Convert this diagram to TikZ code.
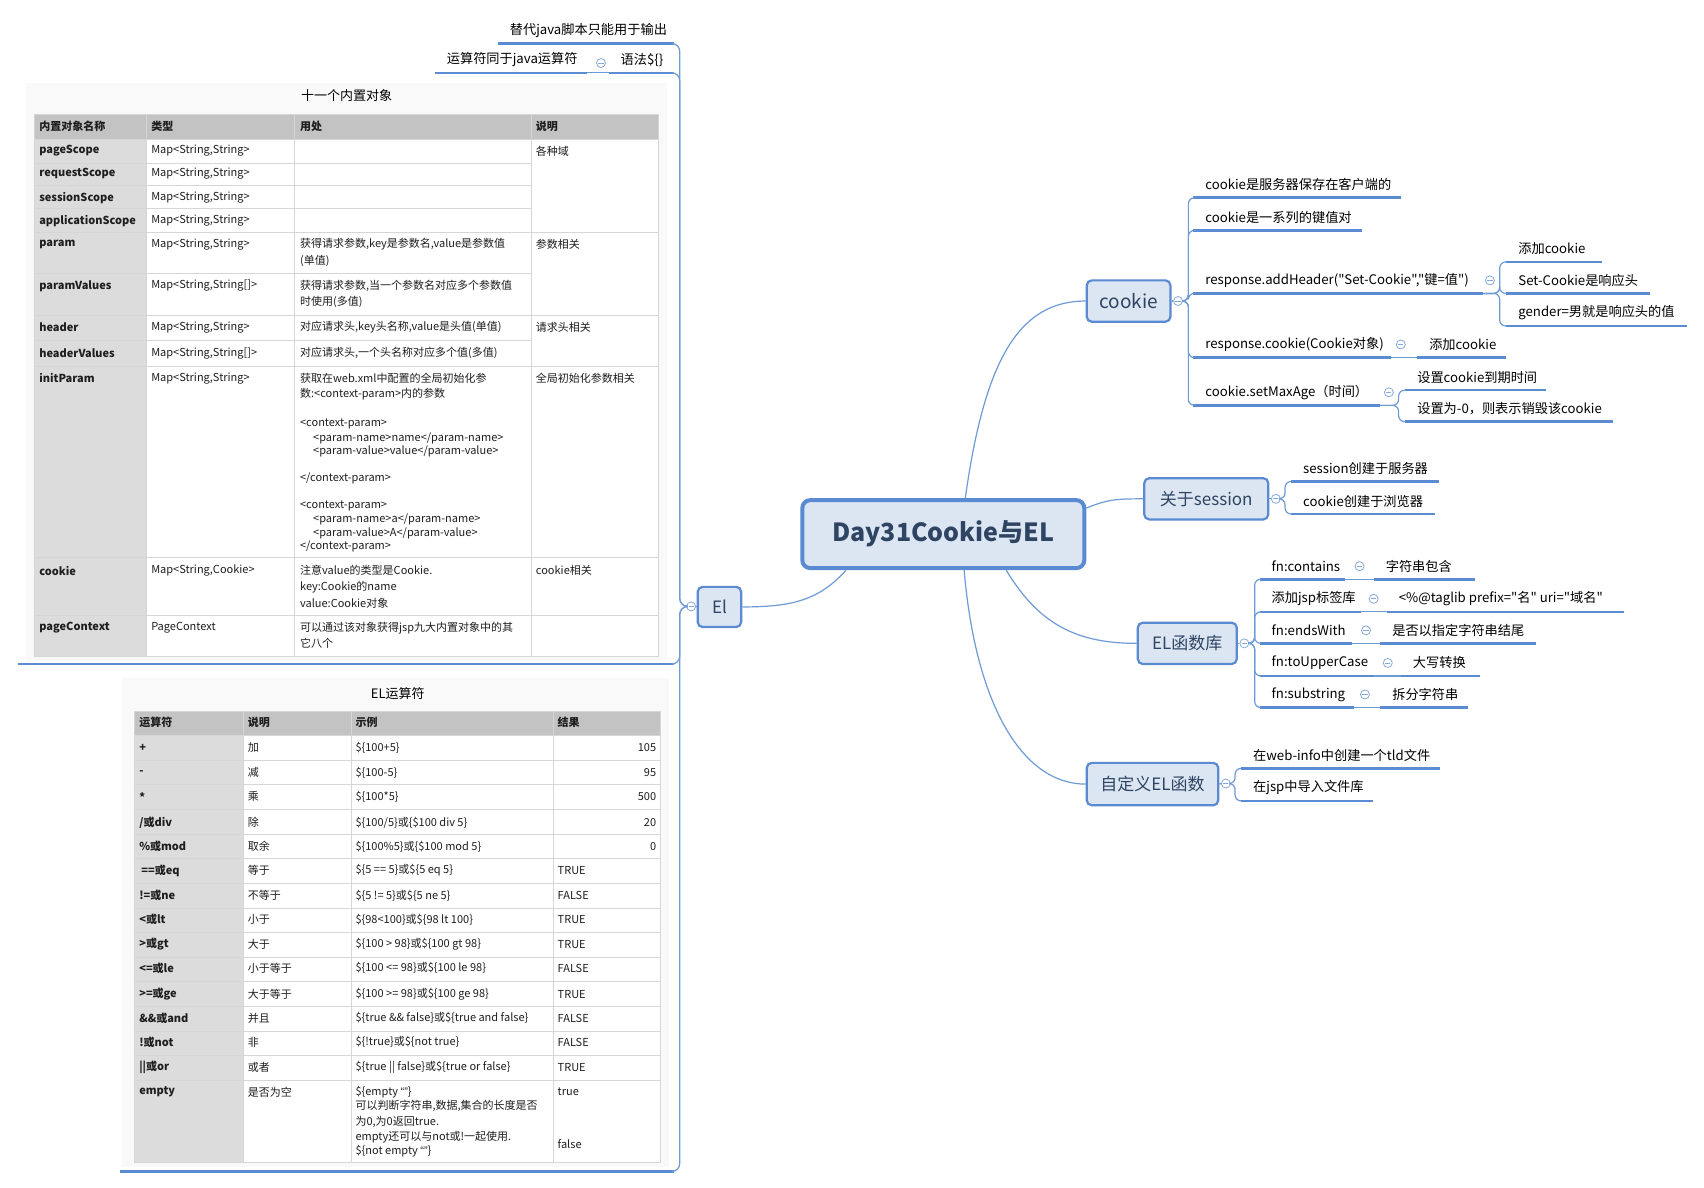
\documentclass[tikz,border=0pt]{standalone}
\usepackage{fontspec}
\setmainfont{Noto Sans CJK SC}[Ligatures=TeXOff]
\newfontfamily\lat{Liberation Sans}
\usetikzlibrary{calc}
\definecolor{ul}{HTML}{5B8BD2}
\definecolor{thinc}{HTML}{6E9AD6}
\definecolor{togc}{HTML}{86A9DC}
\definecolor{nbord}{HTML}{5A8AD2}
\definecolor{nfill}{HTML}{DCE6F2}
\definecolor{ntext}{HTML}{2E4462}
\definecolor{gridc}{HTML}{D6D6D6}
\definecolor{hdr}{HTML}{C2C3C2}
\definecolor{colone}{HTML}{DCDCDC}
\definecolor{tcol}{HTML}{1E1E1E}
\definecolor{panel}{HTML}{F9F9F9}
\newcommand\tx[5][tc]{\node[#1] (#2) at (#3,#4) {#5};}
\newcommand\leaf[5]{\node[leaf] (#1) at ({#2+11},{#4-12}) {#5};
  \draw[uline] (#2,#4) coordinate (#1-s) -- (#3,#4) coordinate (#1-e);}
\newcommand\tog[3]{\node[togs] (#1) at (#2,#3) {};}
\begin{document}
\begin{tikzpicture}[x=1.0867pt,y=-1.0867pt,
  leaf/.style={font=\fontsize{13.2}{15}\selectfont, inner sep=0pt, anchor=west, text=black},
  uline/.style={draw=ul, line width=2.6pt},
  conn/.style={draw=thinc, line width=1.2pt},
  togs/.style={circle, draw=togc, fill=white, minimum size=9pt, inner sep=0pt, line width=0.8pt,
    path picture={\draw[togc,line width=0.8pt] ([xshift=-2.6pt]path picture bounding box.center) -- ([xshift=2.6pt]path picture bounding box.center);}},
  mnode/.style={draw=nbord, fill=nfill, line width=2.2pt, rounded corners=5pt, text=ntext, font=\fontsize{17}{20}\selectfont, inner sep=0pt},
  tc/.style={font=\fontsize{11}{13}\selectfont, inner sep=0pt, anchor=west, text=tcol},
  tb/.style={tc, font=\fontsize{11}{13}\selectfont\bfseries},
  tr/.style={tc, anchor=east},
  gridl/.style={draw=gridc, line width=0.9pt}
]
\useasboundingbox (0,0) rectangle (1568,1093);
\fill[white] (0,0) rectangle (1568,1093);

% ---------------- central and main nodes
\node[mnode, line width=4pt, rounded corners=8pt, minimum width=282pt, minimum height=68pt,
  font=\fontsize{25}{28}\selectfont\bfseries] (root) at (868,491.5) {Day31Cookie与EL};
\node[mnode, minimum width=83.7pt, minimum height=41.3pt, font=\fontsize{19}{22}\selectfont] (ck) at (1038.5,277) {cookie};
\node[mnode, minimum width=124pt, minimum height=41.3pt] (ss) at (1110,459) {关于session};
\node[mnode, minimum width=99pt, minimum height=41.3pt] (fn) at (1092.5,592) {EL函数库};
\node[mnode, minimum width=131.5pt, minimum height=42.4pt] (cu) at (1060.5,721.5) {自定义EL函数};
\node[mnode, minimum width=43.5pt, minimum height=40.2pt] (el) at (662,558.5) {El};

% central connectors
\coordinate (r-ck) at ($(root.north west)!0.577!(root.north east)$);
\coordinate (r-ss) at ($(root.east)+(0,-24)$);
\coordinate (r-fn) at ($(root.south west)!0.72!(root.south east)$);
\coordinate (r-cu) at ($(root.south west)!0.573!(root.south east)$);
\coordinate (r-el) at ($(root.south west)!0.16!(root.south east)$);
\draw[conn] (r-ck) .. controls +(18,-130) and +(-60,0) .. (ck.west);
\draw[conn] (r-ss) .. controls +(20,-8) and +(-25,0) .. (ss.west);
\draw[conn] (r-fn) .. controls +(30,50) and +(-55,0) .. (fn.west);
\draw[conn] (r-cu) .. controls +(10,120) and +(-60,0) .. (cu.west);
\draw[conn] (r-el) .. controls +(-25,28) and +(45,0) .. (el.east);

% ---------------- cookie branch
\leaf{c1}{1098}{1289}{182}{cookie是服务器保存在客户端的}
\leaf{c2}{1098}{1253}{212}{cookie是一系列的键值对}
\leaf{c3}{1098}{1365}{270}{response.addHeader("Set-Cookie","键=值")}
\leaf{c31}{1386}{1474}{241}{添加cookie}
\leaf{c32}{1386}{1518}{270}{Set-Cookie是响应头}
\leaf{c33}{1386}{1552}{300}{gender=男就是响应头的值}
\leaf{c4}{1098}{1280}{329}{response.cookie(Cookie对象)}
\leaf{c41}{1304}{1386}{329}{添加cookie}
\leaf{c5}{1098}{1270}{373}{cookie.setMaxAge（时间）}
\leaf{c51}{1293}{1423}{359}{设置cookie到期时间}
\leaf{c52}{1293}{1484}{388}{设置为-0，则表示销毁该cookie}
\tog{ckt}{1084}{277}
\draw[conn] (ck.east) -- (ckt.west);
\foreach \c in {c1,c2,c3,c4,c5} \draw[conn, rounded corners=6pt] (ckt.east) -- ++(5,0) |- (\c-s);
\foreach \c in {c31,c32,c33} \draw[conn, rounded corners=6pt] (c3-e) -- ++(15,0) |- (\c-s);
\draw[conn] (c4-e) -- (c41-s);
\foreach \c in {c51,c52} \draw[conn, rounded corners=6pt] (c5-e) -- ++(17,0) |- (\c-s);
\tog{c3t}{1371}{258}
\tog{c4t}{1289}{317}
\tog{c5t}{1278}{361}

% ---------------- session branch
\leaf{s1}{1188}{1324}{443}{session创建于服务器}
\leaf{s2}{1188}{1320}{473}{cookie创建于浏览器}
\tog{sst}{1174}{459}
\draw[conn] (ss.east) -- (sst.west);
\foreach \c in {s1,s2} \draw[conn, rounded corners=6pt] (sst.east) -- ++(4,0) |- (\c-s);

% ---------------- EL function library
\leaf{f1}{1159}{1238}{533}{fn:contains}
\leaf{f1b}{1264}{1357}{533}{字符串包含}
\leaf{f2}{1159}{1252}{563}{添加jsp标签库}
\leaf{f2b}{1276}{1494}{563}{<\%@taglib prefix="名" uri="域名"}
\leaf{f3}{1159}{1244}{592}{fn:endsWith}
\leaf{f3b}{1270}{1413}{592}{是否以指定字符串结尾}
\leaf{f4}{1159}{1264}{622}{fn:toUpperCase}
\leaf{f4b}{1289}{1362}{622}{大写转换}
\leaf{f5}{1159}{1246}{651}{fn:substring}
\leaf{f5b}{1270}{1351}{651}{拆分字符串}
\tog{fnt}{1145}{592}
\draw[conn] (fn.east) -- (fnt.west);
\foreach \c in {f1,f2,f3,f4,f5} {
  \draw[conn, rounded corners=6pt] (fnt.east) -- ++(5,0) |- (\c-s);
  \draw[conn] (\c-e) -- (\c b-s);
}
\tog{f1t}{1251}{521}
\tog{f2t}{1264}{551}
\tog{f3t}{1257}{580}
\tog{f4t}{1277}{610}
\tog{f5t}{1256}{639}

% ---------------- custom EL function
\leaf{u1}{1142}{1325}{707}{在web-info中创建一个tld文件}
\leaf{u2}{1142}{1263}{737}{在jsp中导入文件库}
\tog{cut}{1128}{721}
\draw[conn] (cu.east) -- (cut.west);
\foreach \c in {u1,u2} \draw[conn, rounded corners=6pt] (cut.east) -- ++(4,0) |- (\c-s);

% ---------------- El branch (left)
\fill[panel] (24,76) rectangle (614,608);
\fill[panel] (112,624) rectangle (616,1074);
\leaf{e1}{458}{620}{40}{替代java脚本只能用于输出}
\leaf{e2}{560}{620}{67}{语法\$\{\}}
\leaf{e2a}{400}{540}{67}{运算符同于java运算符}
\draw[conn] (e2a-e) -- (e2-s);
\tog{e2t}{553}{58}
\draw[uline] (17,611) coordinate (t1-s) -- (620,611) coordinate (t1-e);
\draw[uline] (110,1078) coordinate (t2-s) -- (620,1078) coordinate (t2-e);
\tog{elt}{636}{558}
\draw[conn] (el.west) -- (elt.east);
\foreach \c in {e1,e2,t1,t2} \draw[conn, rounded corners=8pt] (elt.west) -- ++(-6,0) |- (\c-e);

% ---------------- table 1
\node[font=\fontsize{13}{15}\selectfont, inner sep=0pt] (tt1) at (319,88) {十一个内置对象};
\fill[hdr] (32,105) rectangle (606,128);
\fill[colone] (32,128) rectangle (135,604);
\fill[white] (135,128) rectangle (606,604);
\foreach \y in {128,150,171,192,214,252,290,313,337,513,566} \draw[gridl] (32,\y) -- (489,\y);
\foreach \y in {214,290,337,513,566} \draw[gridl] (489,\y) -- (606,\y);
\draw[gridl] (489,128) -- (606,128);
\foreach \x in {135,271,489} \draw[gridl] (\x,105) -- (\x,604);
\draw[gridl] (32,105) rectangle (606,604);

\tx[tb]{h1}{36}{116}{内置对象名称}
\tx[tb]{h2}{139}{116}{类型}
\tx[tb]{h3}{276}{116}{用处}
\tx[tb]{h4}{493}{116}{说明}
\tx[tb]{ta1}{36}{139}{pageScope}
\tx[tb]{ta2}{36}{160}{requestScope}
\tx[tb]{ta3}{36}{182}{sessionScope}
\tx[tb]{ta4}{36}{203}{applicationScope}
\tx[tb]{ta5}{36}{225}{param}
\tx[tb]{ta6}{36}{263}{paramValues}
\tx[tb]{ta7}{36}{301}{header}
\tx[tb]{ta8}{36}{325}{headerValues}
\tx[tb]{ta9}{36}{348}{initParam}
\tx[tb]{ta10}{36}{525}{cookie}
\tx[tb]{ta11}{36}{578}{pageContext}
\tx{tb1}{139}{139}{Map<String,String>}
\tx{tb2}{139}{160}{Map<String,String>}
\tx{tb3}{139}{182}{Map<String,String>}
\tx{tb4}{139}{203}{Map<String,String>}
\tx{tb5}{139}{225}{Map<String,String>}
\tx{tb6}{139}{263}{Map<String,String[]>}
\tx{tb7}{139}{301}{Map<String,String>}
\tx{tb8}{139}{325}{Map<String,String[]>}
\tx{tb9}{139}{348}{Map<String,String>}
\tx{tb10}{139}{525}{Map<String,Cookie>}
\tx{tb11}{139}{578}{PageContext}
\tx{tc1}{276}{225}{获得请求参数,key是参数名,value是参数值}
\tx{tc2}{276}{240}{(单值)}
\tx{tc3}{276}{263}{获得请求参数,当一个参数名对应多个参数值}
\tx{tc4}{276}{278}{时使用(多值)}
\tx{tc5}{276}{301}{对应请求头,key头名称,value是头值(单值)}
\tx{tc6}{276}{325}{对应请求头,一个头名称对应多个值(多值)}
\tx{tc7}{276}{348}{获取在web.xml中配置的全局初始化参}
\tx{tc8}{276}{363}{数:<context-param>内的参数}
\tx{tc9}{276}{390}{<context-param>}
\tx{tc10}{288}{403}{<param-name>name</param-name>}
\tx{tc11}{288}{415}{<param-value>value</param-value>}
\tx{tc12}{276}{440}{</context-param>}
\tx{tc13}{276}{466}{<context-param>}
\tx{tc14}{288}{478}{<param-name>a</param-name>}
\tx{tc15}{288}{491}{<param-value>A</param-value>}
\tx{tc16}{276}{503}{</context-param>}
\tx{tc17}{276}{525}{注意value的类型是Cookie.}
\tx{tc18}{276}{540}{key:Cookie的name}
\tx{tc19}{276}{555}{value:Cookie对象}
\tx{tc20}{276}{578}{可以通过该对象获得jsp九大内置对象中的其}
\tx{tc21}{276}{592}{它八个}
\tx{td1}{493}{139}{各种域}
\tx{td2}{493}{225}{参数相关}
\tx{td3}{493}{301}{请求头相关}
\tx{td4}{493}{348}{全局初始化参数相关}
\tx{td5}{493}{525}{cookie相关}

% ---------------- table 2
\node[font=\fontsize{13}{15}\selectfont, inner sep=0pt] (tt2) at (366,638) {EL运算符};
\fill[hdr] (124,655) rectangle (608,677);
\fill[colone] (124,677) rectangle (224,1070);
\fill[white] (224,677) rectangle (608,1070);
\foreach \y in {677,700,722,745,768,790,813,836,858,881,903,926,949,971,994} \draw[gridl] (124,\y) -- (608,\y);
\foreach \x in {224,323,509} \draw[gridl] (\x,655) -- (\x,1070);
\draw[gridl] (124,655) rectangle (608,1070);

\tx[tb]{g1}{128}{665}{运算符}
\tx[tb]{g2}{228}{665}{说明}
\tx[tb]{g3}{327}{665}{示例}
\tx[tb]{g4}{513}{665}{结果}

\tx[tb]{oa1}{128}{688}{+}
\tx{ob1}{228}{688}{加}
\tx{oc1}{327}{688}{\$\{100+5\}}
\tx[tr]{od1}{604}{688}{105}
\tx[tb]{oa2}{128}{711}{-}
\tx{ob2}{228}{711}{减}
\tx{oc2}{327}{711}{\$\{100-5\}}
\tx[tr]{od2}{604}{711}{95}
\tx[tb]{oa3}{128}{733}{*}
\tx{ob3}{228}{733}{乘}
\tx{oc3}{327}{733}{\$\{100*5\}}
\tx[tr]{od3}{604}{733}{500}
\tx[tb]{oa4}{128}{757}{/或div}
\tx{ob4}{228}{757}{除}
\tx{oc4}{327}{757}{\$\{100/5\}或\{\$100 div 5\}}
\tx[tr]{od4}{604}{757}{20}
\tx[tb]{oa5}{128}{779}{\%或mod}
\tx{ob5}{228}{779}{取余}
\tx{oc5}{327}{779}{\$\{100\%5\}或\{\$100 mod 5\}}
\tx[tr]{od5}{604}{779}{0}
\tx[tb]{oa6}{130}{801}{==或eq}
\tx{ob6}{228}{801}{等于}
\tx{oc6}{327}{801}{\$\{5 == 5\}或\$\{5 eq 5\}}
\tx{od6}{513}{801}{TRUE}
\tx[tb]{oa7}{128}{824}{!=或ne}
\tx{ob7}{228}{824}{不等于}
\tx{oc7}{327}{824}{\$\{5 != 5\}或\$\{5 ne 5\}}
\tx{od7}{513}{824}{FALSE}
\tx[tb]{oa8}{128}{846}{<或lt}
\tx{ob8}{228}{846}{小于}
\tx{oc8}{327}{846}{\$\{98<100\}或\$\{98 lt 100\}}
\tx{od8}{513}{846}{TRUE}
\tx[tb]{oa9}{128}{869}{>或gt}
\tx{ob9}{228}{869}{大于}
\tx{oc9}{327}{869}{\$\{100 > 98\}或\$\{100 gt 98\}}
\tx{od9}{513}{869}{TRUE}
\tx[tb]{oa10}{128}{891}{<=或le}
\tx{ob10}{228}{891}{小于等于}
\tx{oc10}{327}{891}{\$\{100 <= 98\}或\$\{100 le 98\}}
\tx{od10}{513}{891}{FALSE}
\tx[tb]{oa11}{128}{915}{>=或ge}
\tx{ob11}{228}{915}{大于等于}
\tx{oc11}{327}{915}{\$\{100 >= 98\}或\$\{100 ge 98\}}
\tx{od11}{513}{915}{TRUE}
\tx[tb]{oa12}{128}{937}{\&\&或and}
\tx{ob12}{228}{937}{并且}
\tx{oc12}{327}{937}{\$\{true \&\& false\}或\$\{true and false\}}
\tx{od12}{513}{937}{FALSE}
\tx[tb]{oa13}{128}{959}{!或not}
\tx{ob13}{228}{959}{非}
\tx{oc13}{327}{959}{\$\{!true\}或\$\{not true\}}
\tx{od13}{513}{959}{FALSE}
\tx[tb]{oa14}{128}{982}{||或or}
\tx{ob14}{228}{982}{或者}
\tx{oc14}{327}{982}{\$\{true || false\}或\$\{true or false\}}
\tx{od14}{513}{982}{TRUE}
\tx[tb]{oa15}{128}{1005}{empty}
\tx{ob15}{228}{1005}{是否为空}
\tx{oc15}{327}{1005}{\$\{empty {\lat “”}\}}
\tx{oc16}{327}{1018}{可以判断字符串,数据,集合的长度是否}
\tx{oc17}{327}{1032}{为0,为0返回true.}
\tx{oc18}{327}{1046}{empty还可以与not或!一起使用.}
\tx{oc19}{327}{1059}{\$\{not empty {\lat “”}\}}
\tx{od15}{513}{1005}{true}
\tx{od16}{513}{1053}{false}
\end{tikzpicture}
\end{document}
